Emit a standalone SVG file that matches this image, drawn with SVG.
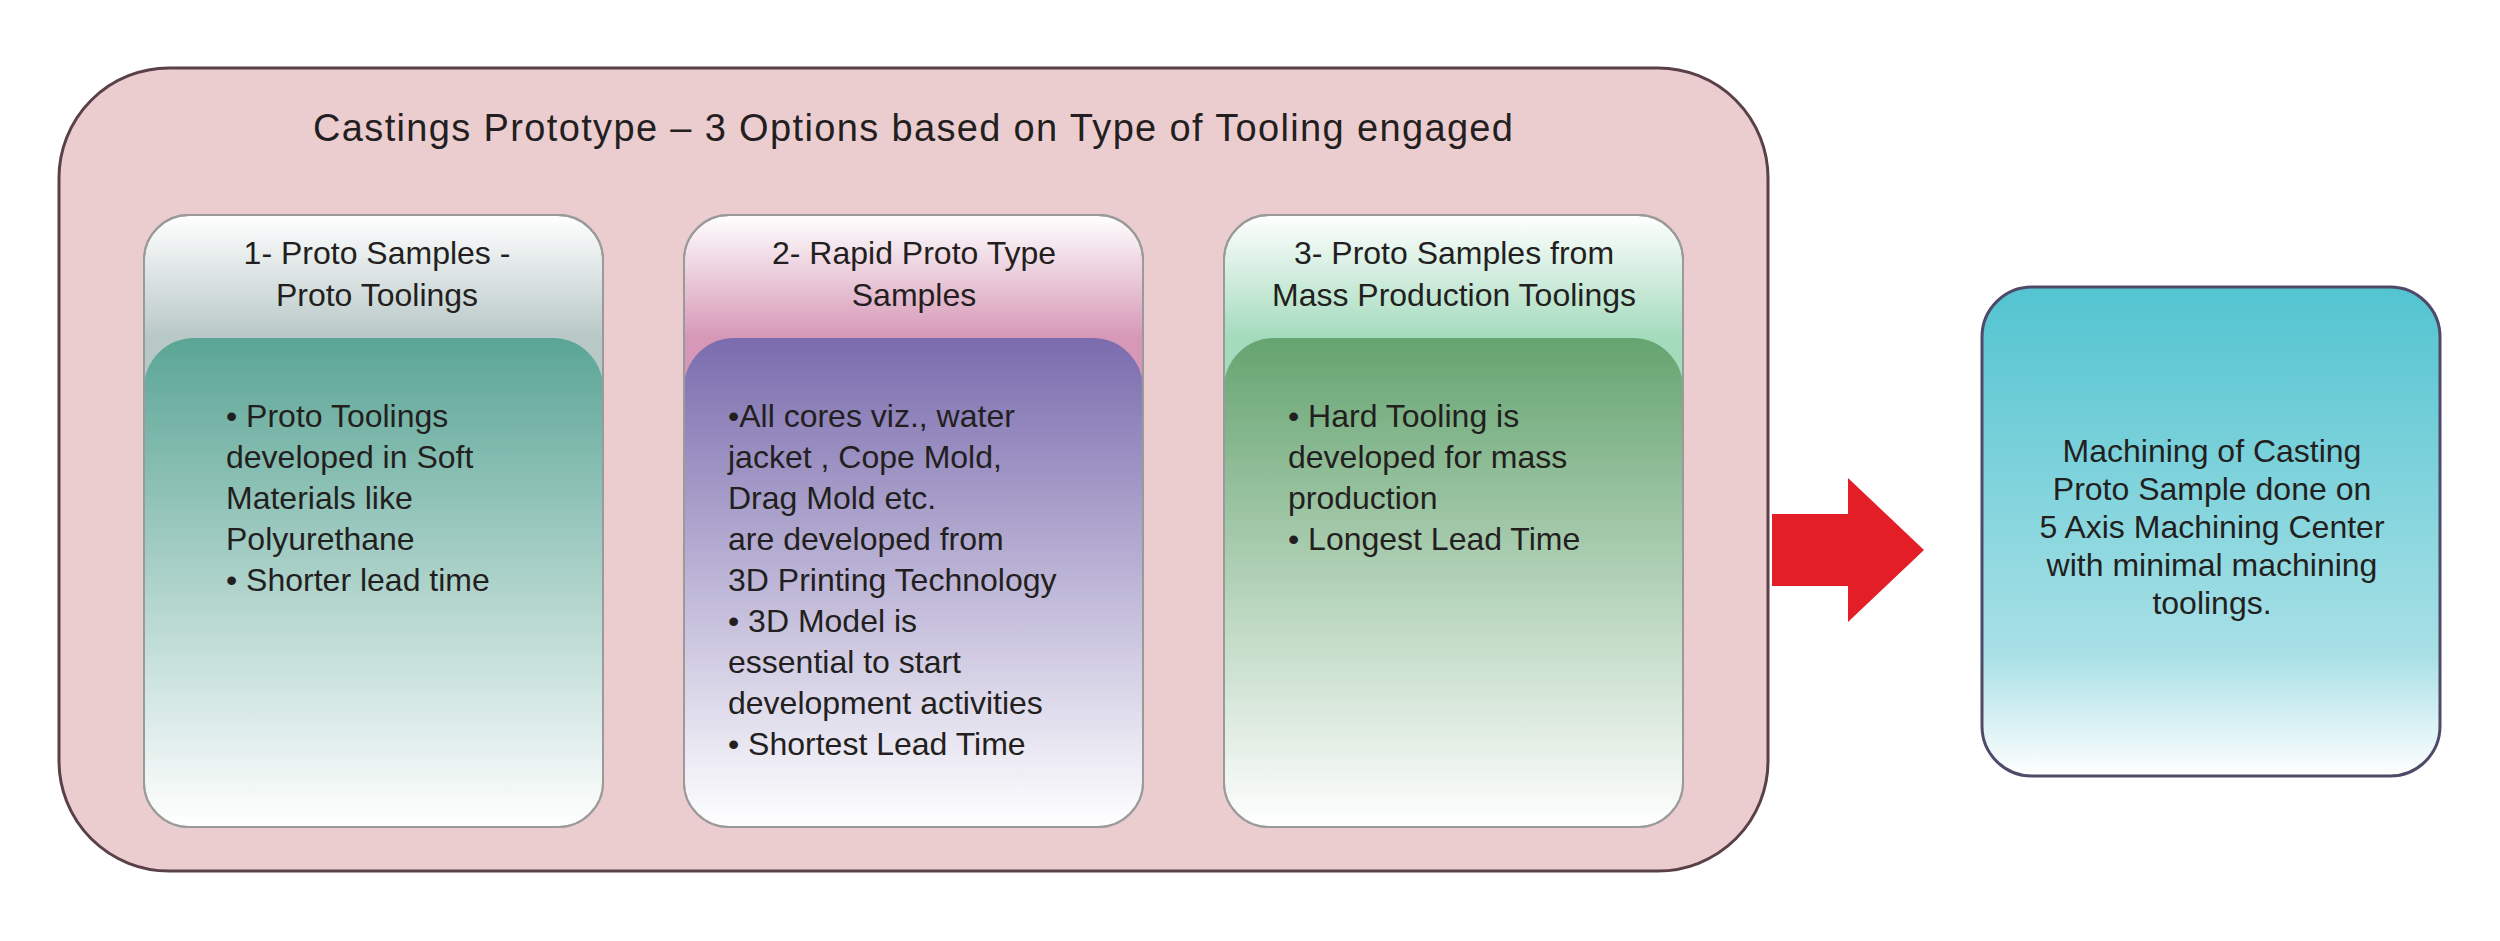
<svg xmlns="http://www.w3.org/2000/svg" width="2500" height="941" viewBox="0 0 2500 941">
<defs>
<linearGradient id="h1" x1="0" y1="0" x2="0" y2="1"><stop offset="0" stop-color="#ffffff"/><stop offset="0.2" stop-color="#b8c8c7"/><stop offset="1" stop-color="#b8c8c7"/></linearGradient>
<linearGradient id="b1" x1="0" y1="0" x2="0" y2="1"><stop offset="0" stop-color="#5aa595"/><stop offset="1" stop-color="#ffffff"/></linearGradient>
<linearGradient id="h2" x1="0" y1="0" x2="0" y2="1"><stop offset="0" stop-color="#ffffff"/><stop offset="0.2" stop-color="#d698b6"/><stop offset="1" stop-color="#d698b6"/></linearGradient>
<linearGradient id="b2" x1="0" y1="0" x2="0" y2="1"><stop offset="0" stop-color="#7a6cae"/><stop offset="1" stop-color="#ffffff"/></linearGradient>
<linearGradient id="h3" x1="0" y1="0" x2="0" y2="1"><stop offset="0" stop-color="#ffffff"/><stop offset="0.2" stop-color="#a4dbbd"/><stop offset="1" stop-color="#a4dbbd"/></linearGradient>
<linearGradient id="b3" x1="0" y1="0" x2="0" y2="1"><stop offset="0" stop-color="#65a470"/><stop offset="1" stop-color="#ffffff"/></linearGradient>
<linearGradient id="g4" x1="0" y1="0" x2="0" y2="1"><stop offset="0" stop-color="#52c4d0"/><stop offset="0.75" stop-color="#a8e0e6"/><stop offset="1" stop-color="#ffffff"/></linearGradient>
<style>
text{font-family:"Liberation Sans",Arial,sans-serif;fill:#231f20}
.h{font-size:32px;text-anchor:middle}
.b{font-size:32px}
.card{stroke:#9a9a9a;stroke-width:2}
</style>
</defs>
<g id="outer">
<rect x="59" y="68" width="1709" height="803" rx="110" fill="#ebcdd0" stroke="#5a4048" stroke-width="3"/>
<text x="913" y="141" font-size="38" text-anchor="middle" textLength="1200">Castings Prototype – 3 Options based on Type of Tooling engaged</text>
</g>
<g id="option1">
<rect class="card" x="144" y="215" width="459" height="612" rx="45" fill="url(#h1)"/>
<path d="M144 388 a50 50 0 0 1 50 -50 h359 a50 50 0 0 1 50 50 V782 a45 45 0 0 1 -45 45 H189 a45 45 0 0 1 -45 -45 Z" fill="url(#b1)"/>
<rect x="144" y="215" width="459" height="612" rx="45" fill="none" class="card"/>
<text class="h" x="377" y="264">1- Proto Samples -</text>
<text class="h" x="377" y="306">Proto Toolings</text>
<text class="b" x="226" y="427">• Proto Toolings</text>
<text class="b" x="226" y="468">developed in Soft</text>
<text class="b" x="226" y="509">Materials like</text>
<text class="b" x="226" y="550">Polyurethane</text>
<text class="b" x="226" y="591">• Shorter lead time</text>
</g>
<g id="option2">
<rect class="card" x="684" y="215" width="459" height="612" rx="45" fill="url(#h2)"/>
<path d="M684 388 a50 50 0 0 1 50 -50 h359 a50 50 0 0 1 50 50 V782 a45 45 0 0 1 -45 45 H729 a45 45 0 0 1 -45 -45 Z" fill="url(#b2)"/>
<rect x="684" y="215" width="459" height="612" rx="45" fill="none" class="card"/>
<text class="h" x="914" y="264">2- Rapid Proto Type</text>
<text class="h" x="914" y="306">Samples</text>
<text class="b" x="728" y="427">•All cores viz., water</text>
<text class="b" x="728" y="468">jacket , Cope Mold,</text>
<text class="b" x="728" y="509">Drag Mold etc.</text>
<text class="b" x="728" y="550">are developed from</text>
<text class="b" x="728" y="591">3D Printing Technology</text>
<text class="b" x="728" y="632">• 3D Model is</text>
<text class="b" x="728" y="673">essential to start</text>
<text class="b" x="728" y="714">development activities</text>
<text class="b" x="728" y="755">• Shortest Lead Time</text>
</g>
<g id="option3">
<rect class="card" x="1224" y="215" width="459" height="612" rx="45" fill="url(#h3)"/>
<path d="M1224 388 a50 50 0 0 1 50 -50 h359 a50 50 0 0 1 50 50 V782 a45 45 0 0 1 -45 45 H1269 a45 45 0 0 1 -45 -45 Z" fill="url(#b3)"/>
<rect x="1224" y="215" width="459" height="612" rx="45" fill="none" class="card"/>
<text class="h" x="1454" y="264">3- Proto Samples from</text>
<text class="h" x="1454" y="306">Mass Production Toolings</text>
<text class="b" x="1288" y="427">• Hard Tooling is</text>
<text class="b" x="1288" y="468">developed for mass</text>
<text class="b" x="1288" y="509">production</text>
<text class="b" x="1288" y="550">• Longest Lead Time</text>
</g>
<g id="connectors">
<polygon points="1772,514 1848,514 1848,478 1924,550 1848,622 1848,586 1772,586" fill="#e31e26"/>
</g>
<g id="machining">
<rect x="1982" y="287" width="458" height="489" rx="50" fill="url(#g4)" stroke="#4f4a6a" stroke-width="3"/>
<text class="h" x="2212" y="462">Machining of Casting</text>
<text class="h" x="2212" y="500">Proto Sample done on</text>
<text class="h" x="2212" y="538">5 Axis Machining Center</text>
<text class="h" x="2212" y="576">with minimal machining</text>
<text class="h" x="2212" y="614">toolings.</text>
</g>
</svg>
